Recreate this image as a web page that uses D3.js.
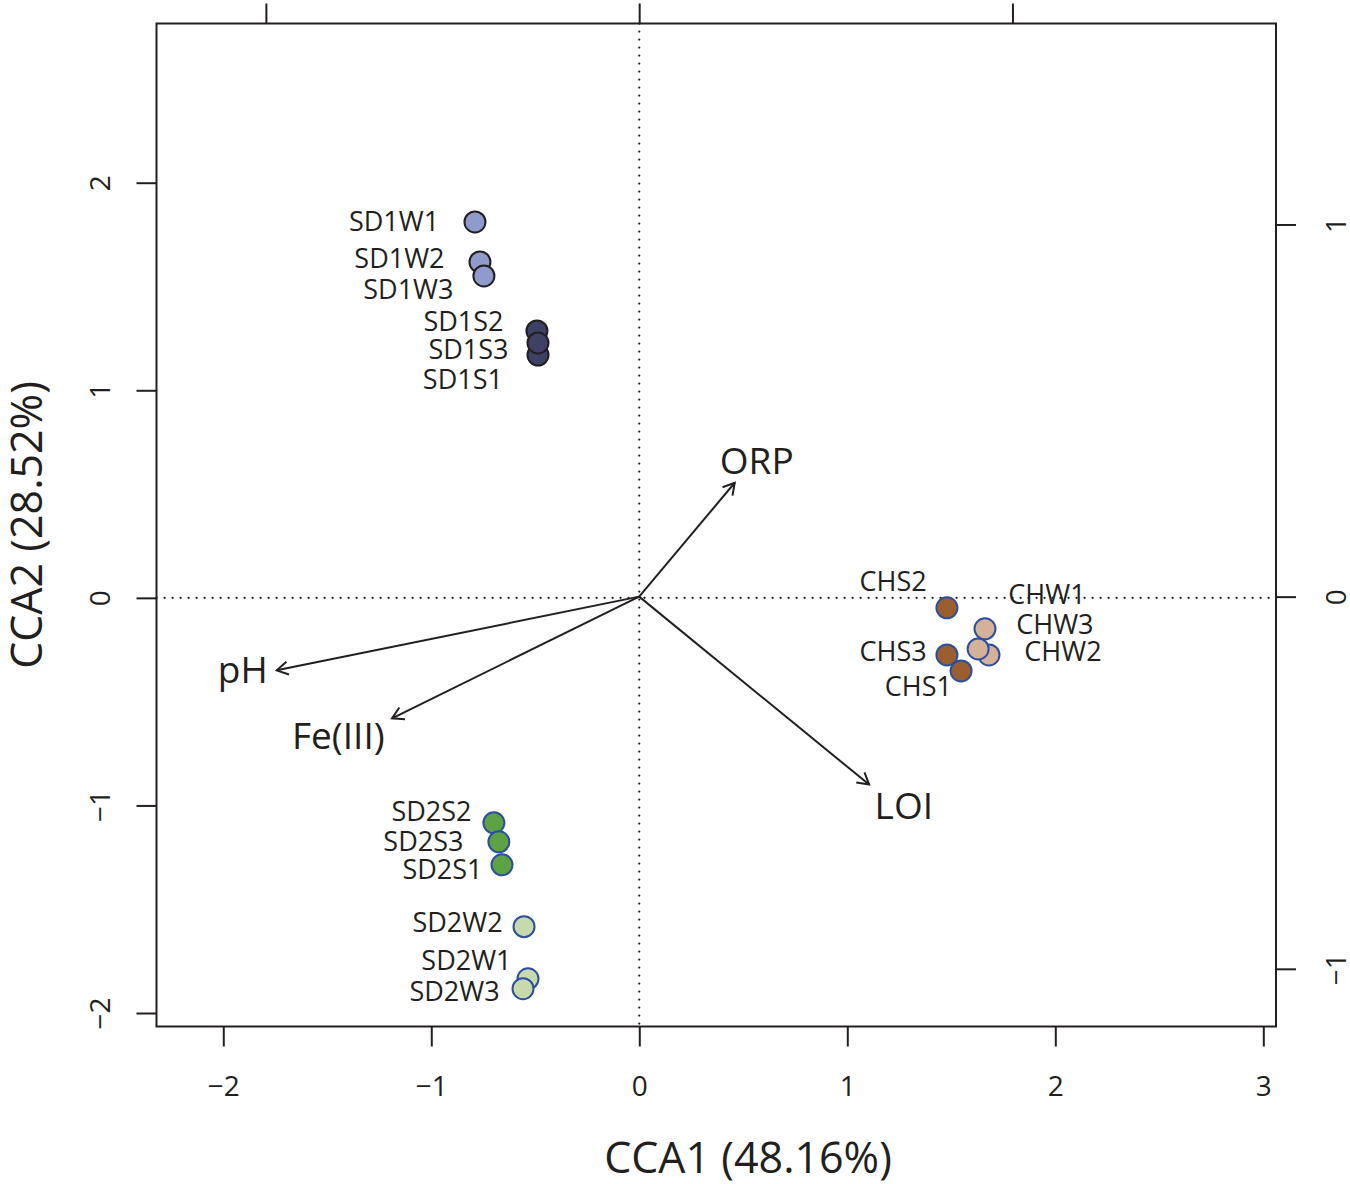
<!DOCTYPE html>
<html>
<head>
<meta charset="utf-8">
<script src="https://cdn.jsdelivr.net/npm/d3@7"></script>
<style>
  body { margin: 0; background: #fff; }
  svg text { font-family: "Open Sans", "Noto Sans", sans-serif; fill: #231f20; }
  .axis path.domain { display: none; }
  .axis line { stroke: #231f20; stroke-width: 2; }
</style>
</head>
<body>
<div id="chart"></div>
<script>
// Sample scores (CCA1 / CCA2)
const sites = ['SD1W1','SD1W2','SD1W3','SD1S1','SD1S2','SD1S3',
               'CHS2','CHS3','CHS1','CHW1','CHW2','CHW3',
               'SD2S2','SD2S3','SD2S1','SD2W1','SD2W2','SD2W3'];
const groups = ['SD1W','SD1W','SD1W','SD1S','SD1S','SD1S',
                'CHS','CHS','CHS','CHW','CHW','CHW',
                'SD2S','SD2S','SD2S','SD2W','SD2W','SD2W'];
const cca1 = [-0.790,-0.766,-0.747,-0.487,-0.492,-0.487,
              1.479,1.479,1.547,1.662,1.681,1.629,
              -0.699,-0.675,-0.660,-0.535,-0.554,-0.559];
const cca2 = [1.811,1.618,1.551,1.170,1.286,1.228,
              -0.048,-0.275,-0.352,-0.149,-0.275,-0.246,
              -1.084,-1.175,-1.286,-1.835,-1.584,-1.883];
// where each sample name sits (same axes)
const labelCca1 = [-1.179,-1.153,-1.110,-0.848,-0.845,-0.821,
                   1.220,1.220,1.342,1.960,2.037,1.998,
                   -0.999,-1.038,-0.946,-0.831,-0.874,-0.888];
const labelCca2 = [1.813,1.633,1.483,1.050,1.329,1.194,
                   0.077,-0.260,-0.429,0.014,-0.260,-0.130,
                   -1.031,-1.175,-1.310,-1.748,-1.565,-1.897];

// Environmental vectors (biplot scores, secondary axes)
const envVars = ['ORP','pH','Fe(III)','LOI'];
const envCca1 = [0.256,-0.971,-0.662,0.616];
const envCca2 = [0.306,-0.198,-0.327,-0.505];
const envLabelCca1 = [0.315,-1.062,-0.806,0.709];
const envLabelCca2 = [0.365,-0.196,-0.375,-0.563];

const xTicks = [-2,-1,0,1,2,3];
const yTicks = [-2,-1,0,1,2];
const x2Ticks = [-1,0,1];
const y2Ticks = [-1,0,1];

const groupNames = ['SD1W','SD1S','CHS','CHW','SD2S','SD2W'];
const groupFill = ['#8f9bcb','#3d4166','#9c5e2c','#d4b197','#5da344','#c6daab'];
const groupStroke = ['#231f20','#231f20','#2c4fa3','#2c4fa3','#2c4fa3','#2c4fa3'];

const width = 1350;
const height = 1184;
const margin = { top: 23.5, right: 74, bottom: 157.5, left: 156.5 };
const innerW = width - margin.left - margin.right;
const innerH = height - margin.top - margin.bottom;

const svg = d3.select('#chart').append('svg').attr('width', width).attr('height', height);

const x = d3.scaleLinear().domain([-2.321, 3.061]).range([margin.left, width - margin.right]);
const y = d3.scaleLinear().domain([-2.065, 2.767]).range([height - margin.bottom, margin.top]);
const x2 = d3.scaleLinear().domain([-1.293, 1.706]).range([margin.left, width - margin.right]);
const y2 = d3.scaleLinear().domain([-1.155, 1.540]).range([height - margin.bottom, margin.top]);

const fill = d3.scaleOrdinal().domain(groupNames).range(groupFill);
const stroke = d3.scaleOrdinal().domain(groupNames).range(groupStroke);

const fmt = d3.format('d');

// axes
const tickFont = 28;
svg.append('g').attr('class', 'axis')
  .attr('transform', `translate(0,${height - margin.bottom})`)
  .call(d3.axisBottom(x).tickValues(xTicks).tickFormat(fmt).tickSize(20).tickPadding(30))
  .selectAll('text').style('font-size', tickFont + 'px');

svg.append('g').attr('class', 'axis')
  .attr('transform', `translate(${margin.left},0)`)
  .call(d3.axisLeft(y).tickValues(yTicks).tickFormat(fmt).tickSize(20))
  .selectAll('text')
  .attr('x', null).attr('dy', '0.35em')
  .attr('text-anchor', 'middle')
  .attr('transform', 'translate(-56,0) rotate(-90)')
  .style('font-size', tickFont + 'px');

svg.append('g').attr('class', 'axis')
  .attr('transform', `translate(0,${margin.top})`)
  .call(d3.axisTop(x2).tickValues(x2Ticks).tickSize(20).tickFormat(''));

svg.append('g').attr('class', 'axis')
  .attr('transform', `translate(${width - margin.right},0)`)
  .call(d3.axisRight(y2).tickValues(y2Ticks).tickFormat(fmt).tickSize(20))
  .selectAll('text')
  .attr('x', null).attr('dy', '0.35em')
  .attr('text-anchor', 'middle')
  .attr('transform', 'translate(60.5,0) rotate(-90)')
  .style('font-size', tickFont + 'px');

// box
svg.append('rect')
  .attr('x', margin.left).attr('y', margin.top)
  .attr('width', innerW).attr('height', innerH)
  .attr('fill', 'none').attr('stroke', '#231f20').attr('stroke-width', 2);

// axis titles
svg.append('text')
  .attr('x', 748).attr('y', 1173)
  .attr('text-anchor', 'middle')
  .style('font-size', '43px')
  .text('CCA1 (48.16%)');
svg.append('text')
  .attr('transform', `translate(42,${(margin.top + height - margin.bottom) / 2}) rotate(-90)`)
  .attr('text-anchor', 'middle')
  .style('font-size', '43px')
  .text('CCA2 (28.52%)');

// dotted zero lines
const dotted = svg.append('g')
  .attr('stroke', '#231f20').attr('stroke-width', 2.2)
  .attr('stroke-dasharray', '0.1,7.9').attr('stroke-linecap', 'round');
dotted.append('line')
  .attr('x1', x(0)).attr('x2', x(0))
  .attr('y1', margin.top).attr('y2', height - margin.bottom);
dotted.append('line')
  .attr('x1', margin.left).attr('x2', width - margin.right)
  .attr('y1', y(0)).attr('y2', y(0));

// environmental arrows
const arrows = svg.append('g').attr('stroke', '#231f20').attr('stroke-width', 2).attr('fill', 'none');
envVars.forEach((v, i) => {
  const x0 = x2(0), y0 = y2(0);
  const x1 = x2(envCca1[i]), y1 = y2(envCca2[i]);
  arrows.append('line').attr('x1', x0).attr('y1', y0).attr('x2', x1).attr('y2', y1);
  const ang = Math.atan2(y1 - y0, x1 - x0);
  const len = 13, spread = Math.PI / 6;
  const p = d3.path();
  p.moveTo(x1 - len * Math.cos(ang - spread), y1 - len * Math.sin(ang - spread));
  p.lineTo(x1, y1);
  p.lineTo(x1 - len * Math.cos(ang + spread), y1 - len * Math.sin(ang + spread));
  arrows.append('path').attr('d', p.toString());
});
svg.append('g').selectAll('text')
  .data(envVars)
  .join('text')
  .attr('x', (d, i) => x2(envLabelCca1[i]))
  .attr('y', (d, i) => y2(envLabelCca2[i]))
  .attr('dy', '0.35em')
  .attr('text-anchor', 'middle')
  .style('font-size', '37px')
  .text(d => d);

// sample points
svg.append('g').selectAll('circle')
  .data(sites)
  .join('circle')
  .attr('cx', (d, i) => x(cca1[i]))
  .attr('cy', (d, i) => y(cca2[i]))
  .attr('r', 10.5)
  .attr('fill', (d, i) => fill(groups[i]))
  .attr('stroke', (d, i) => stroke(groups[i]))
  .attr('stroke-width', 2);

svg.append('g').selectAll('text')
  .data(sites)
  .join('text')
  .attr('x', (d, i) => x(labelCca1[i]))
  .attr('y', (d, i) => y(labelCca2[i]))
  .attr('dy', '0.35em')
  .attr('text-anchor', 'middle')
  .style('font-size', '27px')
  .text(d => d);
</script>
</body>
</html>
